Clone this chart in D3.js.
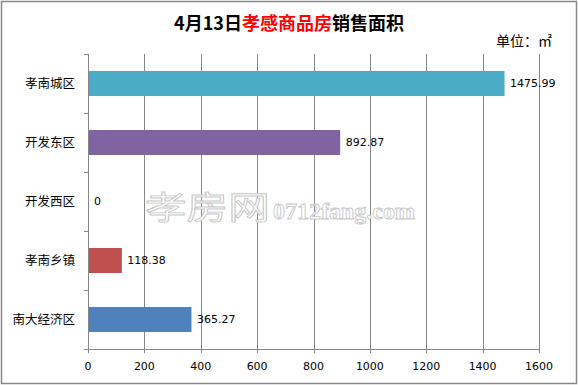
<!DOCTYPE html>
<html>
<head>
<meta charset="utf-8">
<script src="https://cdn.jsdelivr.net/npm/d3@7"></script>
<style>
  body { margin: 0; background: #fff; }
  svg { display: block; }
</style>
</head>
<body>
<div id="chart"></div>
<script>
// 4月13日 孝感商品房销售面积 (horizontal bars)

var categories = ["孝南城区", "开发东区", "开发西区", "孝南乡镇", "南大经济区"]
var values = [1475.99, 892.87, 0, 118.38, 365.27]
var valueLabels = ["1475.99", "892.87", "0", "118.38", "365.27"]
var barColors = ["#4BACC6", "#8064A2", "#9BBB59", "#C0504D", "#4F81BD"]
var xTicks = [0, 200, 400, 600, 800, 1000, 1200, 1400, 1600]

var width = 578
var height = 385
var plot = {left: 88, right: 539, top: 54, bottom: 349}
var gridColor = "#868686"
var cjk = "'Noto Sans CJK SC', 'Noto Sans', sans-serif"
var numFont = "'DejaVu Sans', 'Noto Sans', sans-serif"

var svg = d3.select("#chart")
  .append("svg")
    .attr("width", width)
    .attr("height", height)

// outer frame
svg.append("rect")
  .attr("x", 1.5).attr("y", 1.5)
  .attr("width", width - 3).attr("height", height - 3)
  .attr("fill", "#fff")
  .attr("stroke", "#888")
  .attr("stroke-width", 1.5)

var x = d3.scaleLinear().domain([0, 1600]).range([plot.left, plot.right])
var y = d3.scaleBand().domain(categories)
  .range([plot.top, plot.bottom])
  .paddingInner(0.576)
  .paddingOuter(0.288)

function px(v) { return Math.round(x(v)) + 0.5 }

// vertical gridlines
svg.append("g")
  .selectAll("line")
  .data(xTicks.slice(1))
  .enter()
  .append("line")
    .attr("x1", px).attr("x2", px)
    .attr("y1", plot.top).attr("y2", plot.bottom)
    .attr("stroke", gridColor)
    .attr("stroke-width", 1)

// watermark (outlined text)
var wm = svg.append("g").attr("fill", "#fff").attr("stroke", "#c8c8c8").attr("stroke-width", 0.9)
wm.append("text")
  .attr("transform", "translate(145,219) scale(1.3,1)")
  .style("font-family", cjk)
  .style("font-size", "32px")
  .text("孝房网")
wm.append("text")
  .attr("x", 273).attr("y", 219)
  .style("font-family", "'Liberation Serif', serif")
  .style("font-size", "24px")
  .style("font-weight", "bold")
  .text("0712fang.com")

// bars
svg.append("g")
  .selectAll("rect")
  .data(values)
  .enter()
  .append("rect")
    .attr("x", x(0) + 0.5)
    .attr("y", function(d, i) { return y(categories[i]) })
    .attr("width", function(d) { return Math.max(0, x(d) - x(0)) })
    .attr("height", y.bandwidth())
    .attr("fill", function(d, i) { return barColors[i] })

// value labels
svg.append("g")
  .selectAll("text")
  .data(values)
  .enter()
  .append("text")
    .attr("x", function(d) { return x(d) + 6 })
    .attr("y", function(d, i) { return y(categories[i]) + y.bandwidth() / 2 })
    .attr("dy", "0.35em")
    .style("font-family", numFont)
    .style("font-size", "11px")
    .attr("fill", "#000")
    .text(function(d, i) { return valueLabels[i] })

// axes
var axis = svg.append("g").attr("stroke", gridColor).attr("stroke-width", 1)
axis.append("line")
  .attr("x1", plot.left + 0.5).attr("x2", plot.left + 0.5)
  .attr("y1", plot.top).attr("y2", plot.bottom + 4)
axis.append("line")
  .attr("x1", plot.left - 4).attr("x2", plot.right + 1)
  .attr("y1", plot.bottom + 0.5).attr("y2", plot.bottom + 0.5)

// category tick marks on band edges
var edges = categories.map(function(c) { return y(c) - y.step() * y.paddingInner() / 2 })
edges.push(plot.bottom)
axis.selectAll(".ytick")
  .data(edges)
  .enter()
  .append("line")
    .attr("x1", plot.left - 4).attr("x2", plot.left)
    .attr("y1", function(d) { return Math.round(d) + 0.5 })
    .attr("y2", function(d) { return Math.round(d) + 0.5 })

axis.selectAll(".xtick")
  .data(xTicks)
  .enter()
  .append("line")
    .attr("x1", px).attr("x2", px)
    .attr("y1", plot.bottom).attr("y2", plot.bottom + 4)

// tick labels
svg.append("g")
  .selectAll("text")
  .data(xTicks)
  .enter()
  .append("text")
    .attr("x", function(d) { return x(d) })
    .attr("y", 366)
    .attr("dy", "0.35em")
    .attr("text-anchor", "middle")
    .style("font-family", numFont)
    .style("font-size", "11px")
    .text(function(d) { return d })

svg.append("g")
  .selectAll("text")
  .data(categories)
  .enter()
  .append("text")
    .attr("x", 75)
    .attr("y", function(d) { return y(d) + y.bandwidth() / 2 })
    .attr("dy", "0.35em")
    .attr("text-anchor", "end")
    .style("font-family", cjk)
    .style("font-size", "12.5px")
    .text(function(d) { return d })

// title
var title = svg.append("text")
  .attr("x", width / 2)
  .attr("y", 24)
  .attr("dy", "0.35em")
  .attr("text-anchor", "middle")
  .style("font-family", cjk)
  .style("font-size", "18px")
  .style("font-weight", "bold")
title.append("tspan").attr("fill", "#000").text("4月13日")
title.append("tspan").attr("fill", "#FF0000").text("孝感商品房")
title.append("tspan").attr("fill", "#000").text("销售面积")

svg.append("text")
  .attr("x", 552)
  .attr("y", 41)
  .attr("dy", "0.35em")
  .attr("text-anchor", "end")
  .style("font-family", cjk)
  .style("font-size", "14px")
  .text("单位：㎡")
</script>
</body>
</html>
